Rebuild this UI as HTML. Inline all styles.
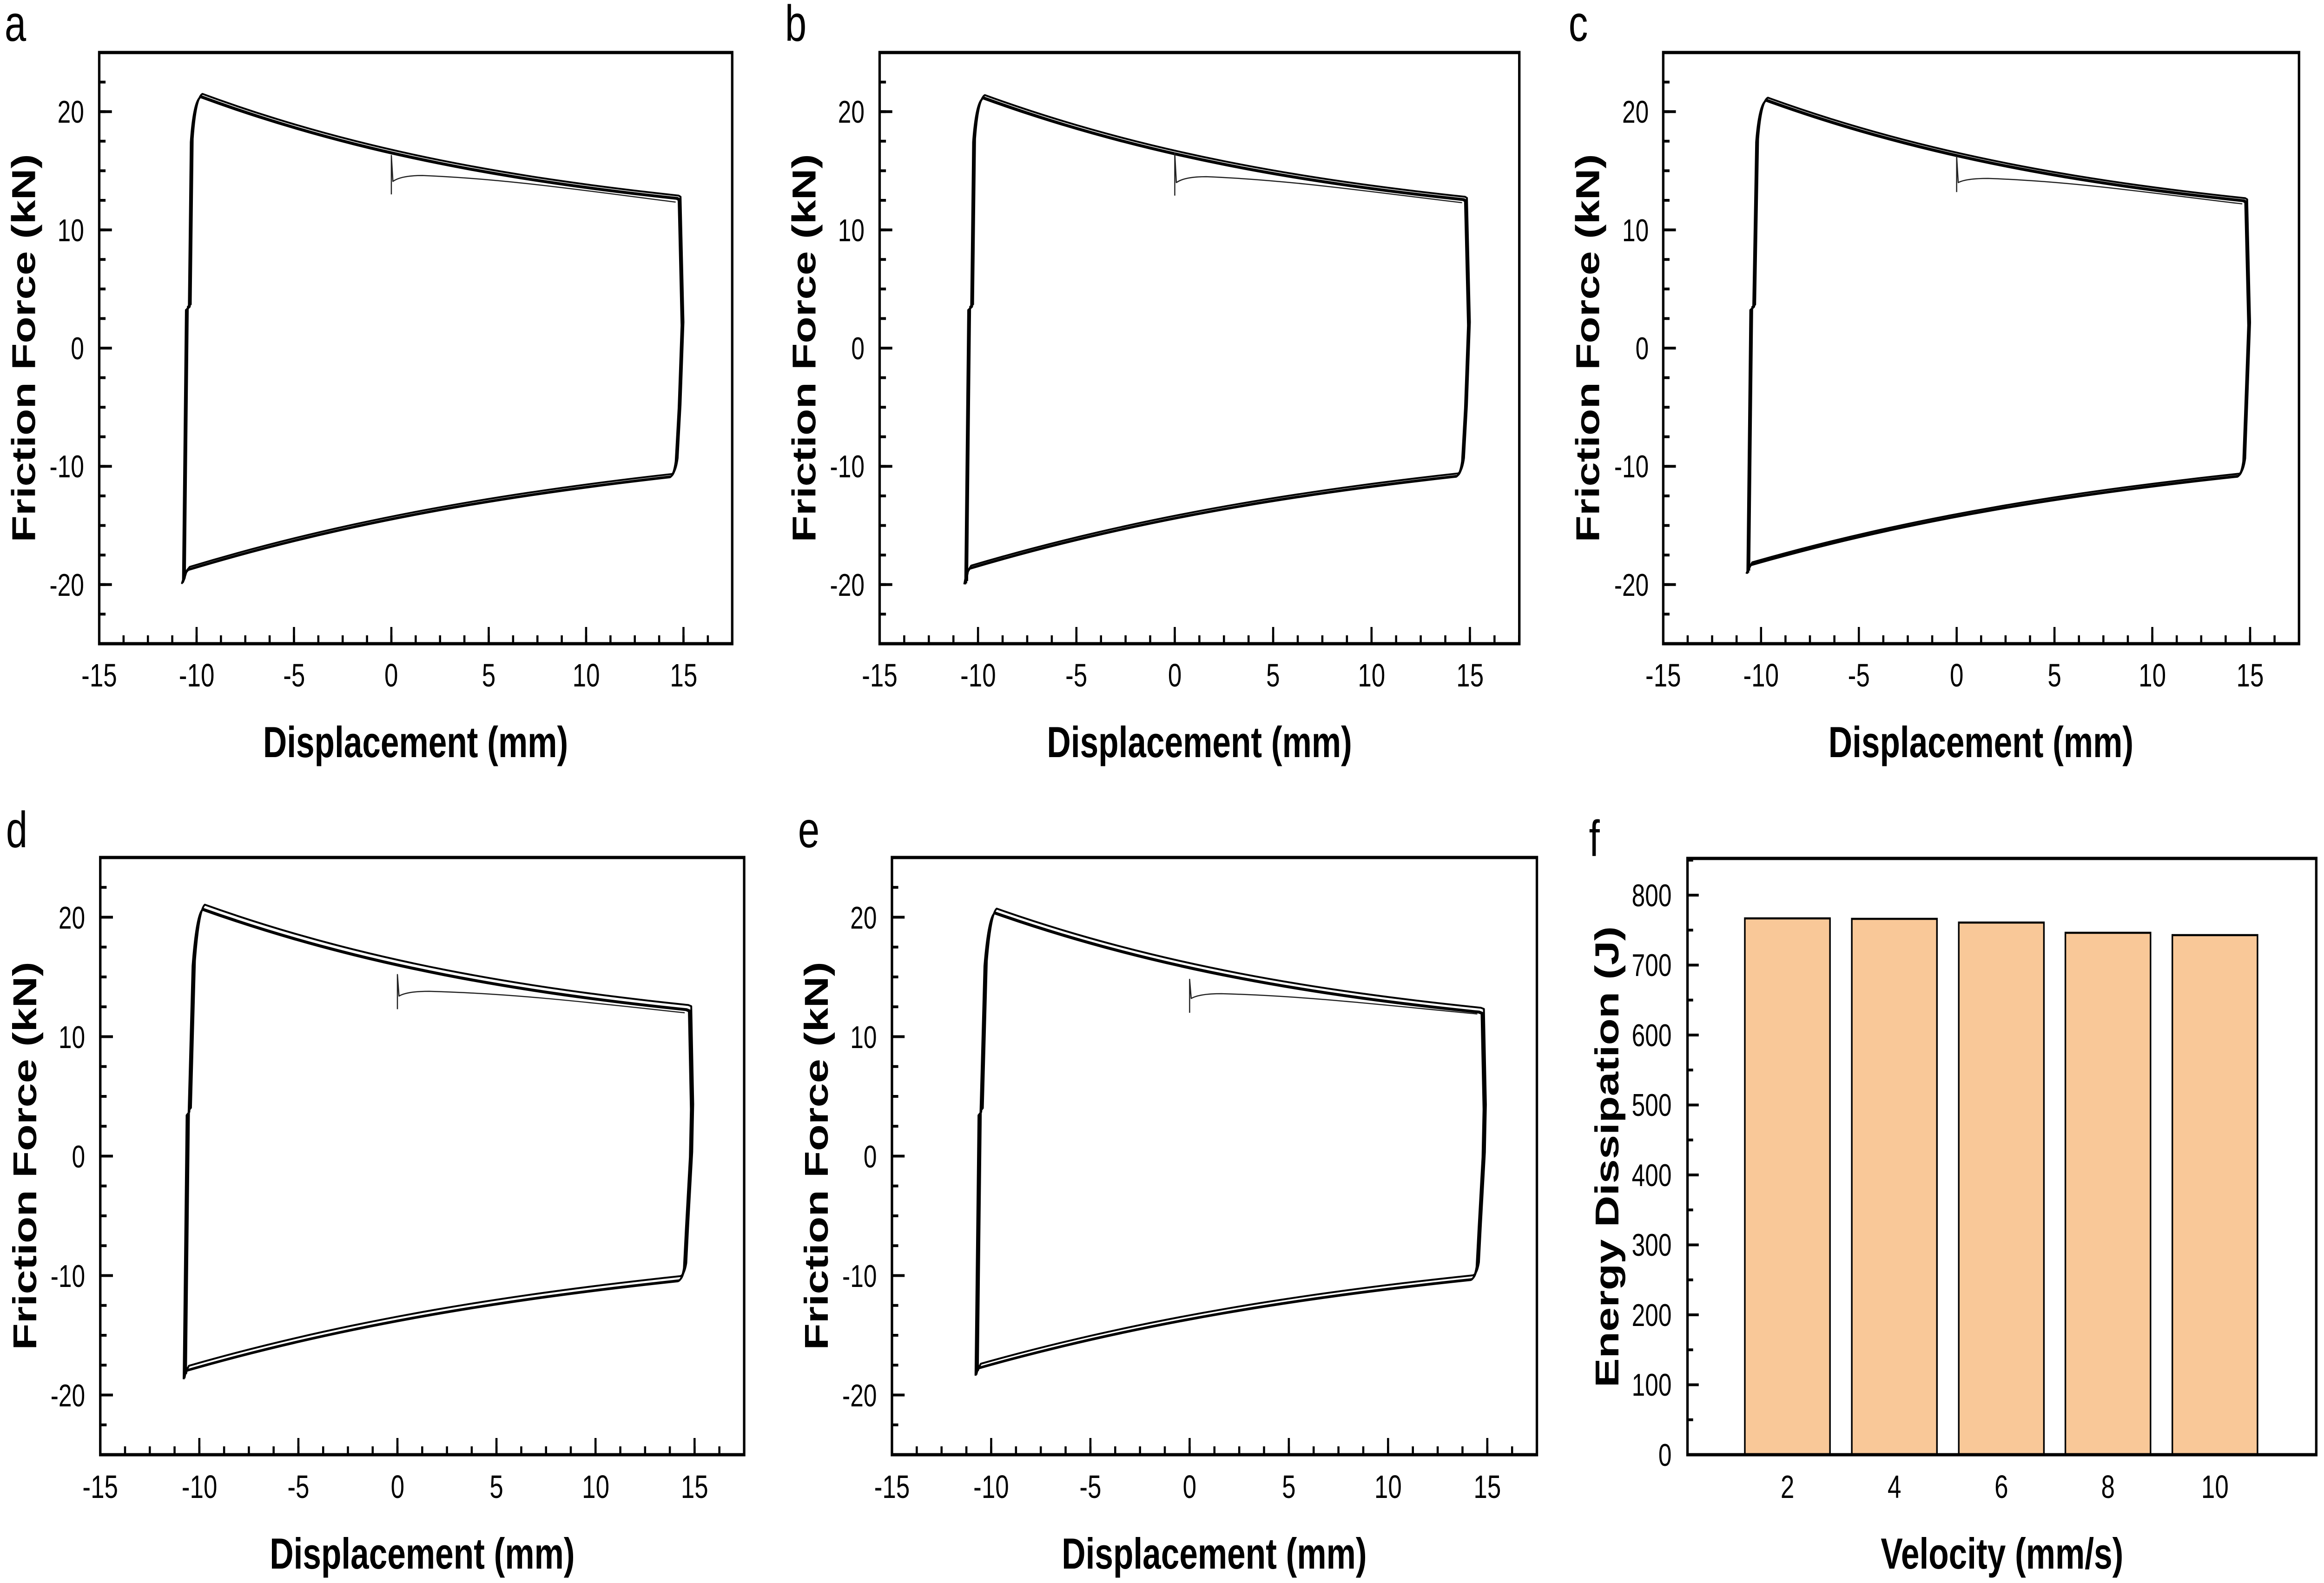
<!DOCTYPE html>
<html>
<head>
<meta charset="utf-8">
<style>
html,body{margin:0;padding:0;background:#fff;width:100%;height:100%;overflow:hidden;}
svg{display:block;width:100vw;height:100vh;}
text{font-family:"Liberation Sans",Arial,sans-serif;fill:#000;}
</style>
</head>
<body>
<svg viewBox="0 0 6605 3406" preserveAspectRatio="none" xmlns="http://www.w3.org/2000/svg">
<rect x="0" y="0" width="6605" height="3406" fill="#fff"/>

<!-- ================= PANEL LETTERS ================= -->
<g font-size="110">
<text x="13" y="88">a</text>
<text x="2231" y="88">b</text>
<text x="4458" y="88">c</text>
<text x="17" y="1823">d</text>
<text x="2268" y="1823">e</text>
<text x="4516" y="1842">f</text>
</g>

<!-- ================= FRAMES ================= -->
<g fill="none" stroke="#000" stroke-width="7">
<rect x="282" y="113" width="1799" height="1272"/>
<rect x="2500" y="113" width="1818" height="1272"/>
<rect x="4727" y="113" width="1807" height="1272"/>
<rect x="285" y="1845" width="1830" height="1285"/>
<rect x="2535" y="1845" width="1833" height="1285"/>
</g>

<!-- ================= TICKS (dash patterns) ================= -->
<g fill="none" stroke="#000">
<line x1="291" y1="110" x2="291" y2="1385" stroke-width="18" stroke-dasharray="6 57.6"/>
<line x1="300" y1="237.2" x2="300" y2="1385" stroke-width="36" stroke-dasharray="6 248.4"/>
<line x1="2509" y1="110" x2="2509" y2="1385" stroke-width="18" stroke-dasharray="6 57.6"/>
<line x1="2518" y1="237.2" x2="2518" y2="1385" stroke-width="36" stroke-dasharray="6 248.4"/>
<line x1="4736" y1="110" x2="4736" y2="1385" stroke-width="18" stroke-dasharray="6 57.6"/>
<line x1="4745" y1="237.2" x2="4745" y2="1385" stroke-width="36" stroke-dasharray="6 248.4"/>
<line x1="279" y1="1376" x2="2081" y2="1376" stroke-width="18" stroke-dasharray="6 63.19"/>
<line x1="279" y1="1367" x2="2081" y2="1367" stroke-width="36" stroke-dasharray="6 270.75"/>
<line x1="2497" y1="1376" x2="4318" y2="1376" stroke-width="18" stroke-dasharray="6 63.9"/>
<line x1="2497" y1="1367" x2="4318" y2="1367" stroke-width="36" stroke-dasharray="6 273.6"/>
<line x1="4724" y1="1376" x2="6534" y2="1376" stroke-width="18" stroke-dasharray="6 63.5"/>
<line x1="4724" y1="1367" x2="6534" y2="1367" stroke-width="36" stroke-dasharray="6 272"/>
<line x1="294" y1="1842" x2="294" y2="3130" stroke-width="18" stroke-dasharray="6 58.25"/>
<line x1="303" y1="1970.5" x2="303" y2="3130" stroke-width="36" stroke-dasharray="6 251"/>
<line x1="2544" y1="1842" x2="2544" y2="3130" stroke-width="18" stroke-dasharray="6 58.25"/>
<line x1="2553" y1="1970.5" x2="2553" y2="3130" stroke-width="36" stroke-dasharray="6 251"/>
<line x1="282" y1="3121" x2="2115" y2="3121" stroke-width="18" stroke-dasharray="6 64.38"/>
<line x1="282" y1="3112" x2="2115" y2="3112" stroke-width="36" stroke-dasharray="6 275.5"/>
<line x1="2532" y1="3121" x2="4368" y2="3121" stroke-width="18" stroke-dasharray="6 64.5"/>
<line x1="2532" y1="3112" x2="4368" y2="3112" stroke-width="36" stroke-dasharray="6 276"/>
</g>

<!-- ================= Y TICK LABELS ================= -->
<g font-size="68" text-anchor="end">
<text x="239" y="264">20</text><text x="239" y="519">10</text><text x="239" y="773">0</text><text x="239" y="1027">-10</text><text x="239" y="1282">-20</text>
<text x="2457" y="264">20</text><text x="2457" y="519">10</text><text x="2457" y="773">0</text><text x="2457" y="1027">-10</text><text x="2457" y="1282">-20</text>
<text x="4686" y="264">20</text><text x="4686" y="519">10</text><text x="4686" y="773">0</text><text x="4686" y="1027">-10</text><text x="4686" y="1282">-20</text>
<text x="242" y="1998">20</text><text x="242" y="2255">10</text><text x="242" y="2512">0</text><text x="242" y="2769">-10</text><text x="242" y="3026">-20</text>
<text x="2492" y="1998">20</text><text x="2492" y="2255">10</text><text x="2492" y="2512">0</text><text x="2492" y="2769">-10</text><text x="2492" y="3026">-20</text>
</g>

<!-- ================= X TICK LABELS ================= -->
<g font-size="70" text-anchor="middle">
<text x="282" y="1477">-15</text><text x="559" y="1477">-10</text><text x="836" y="1477">-5</text><text x="1112" y="1477">0</text><text x="1389" y="1477">5</text><text x="1666" y="1477">10</text><text x="1943" y="1477">15</text>
<text x="2500" y="1477">-15</text><text x="2780" y="1477">-10</text><text x="3059" y="1477">-5</text><text x="3339" y="1477">0</text><text x="3618" y="1477">5</text><text x="3898" y="1477">10</text><text x="4178" y="1477">15</text>
<text x="4727" y="1477">-15</text><text x="5005" y="1477">-10</text><text x="5283" y="1477">-5</text><text x="5561" y="1477">0</text><text x="5839" y="1477">5</text><text x="6117" y="1477">10</text><text x="6395" y="1477">15</text>
<text x="285" y="3223">-15</text><text x="567" y="3223">-10</text><text x="848" y="3223">-5</text><text x="1130" y="3223">0</text><text x="1411" y="3223">5</text><text x="1693" y="3223">10</text><text x="1974" y="3223">15</text>
<text x="2535" y="3223">-15</text><text x="2817" y="3223">-10</text><text x="3099" y="3223">-5</text><text x="3381" y="3223">0</text><text x="3663" y="3223">5</text><text x="3945" y="3223">10</text><text x="4227" y="3223">15</text>
</g>

<!-- ================= AXIS TITLES ================= -->
<g font-size="94" font-weight="bold" text-anchor="middle">
<text x="1181" y="1629">Displacement (mm)</text>
<text x="3409" y="1629">Displacement (mm)</text>
<text x="5630" y="1629">Displacement (mm)</text>
<text x="1200" y="3375">Displacement (mm)</text>
<text x="3451" y="3375">Displacement (mm)</text>
<text x="5690" y="3375">Velocity (mm/s)</text>
<text transform="translate(100,749) rotate(-90)">Friction Force (kN)</text>
<text transform="translate(2318,749) rotate(-90)">Friction Force (kN)</text>
<text transform="translate(4545,749) rotate(-90)">Friction Force (kN)</text>
<text transform="translate(103,2487) rotate(-90)">Friction Force (kN)</text>
<text transform="translate(2353,2487) rotate(-90)">Friction Force (kN)</text>
<text transform="translate(4600,2489) rotate(-90)">Energy Dissipation (J)</text>
</g>

<!-- ================= CURVES ================= -->
<g transform="translate(1112.25,749) scale(55.35,-25.44)" fill="none" stroke="#000" stroke-linejoin="round">
<path id="la" vector-effect="non-scaling-stroke" stroke-width="4" d="M-10.65 -19.6 L-10.5 3.3 L-10.35 3.5 L-10.25 17.5 Q-10.1 21 -9.75 21.3 C-1.6 16.35 6.55 14.15 14.7 12.7 L14.8 12.6 L14.95 2 L14.8 -5 L14.65 -9.5 Q14.55 -10.7 14.35 -10.85 C6.1 -12.38 -2.15 -14.59 -10.4 -18.7 L-10.55 -19 L-10.7 -19.8 L-10.65 -19.6"/>
<use href="#la" transform="translate(0.05,0.2)"/>
<use href="#la" transform="translate(-0.05,-0.08)"/>
<path vector-effect="non-scaling-stroke" stroke-width="2.5" stroke="#222" d="M0 13 L0 16.3 L0.08 14.1 Q0.5 14.6 1.6 14.6 C6 14.3 10 13.3 14.6 12.35"/>
</g>
<g transform="translate(3338.8,749) scale(55.92,-25.44)" fill="none" stroke="#000" stroke-linejoin="round">
<path id="lb" vector-effect="non-scaling-stroke" stroke-width="4" d="M-10.6 -19.9 L-10.45 3.3 L-10.3 3.5 L-10.2 17.5 Q-10.05 20.9 -9.7 21.2 C-1.57 16.27 6.57 14.05 14.7 12.6 L14.8 12.5 L14.95 2 L14.8 -5 L14.65 -9.5 Q14.55 -10.65 14.35 -10.8 C6.1 -12.32 -2.15 -14.52 -10.4 -18.6 L-10.55 -19 L-10.65 -19.9"/>
<use href="#lb" transform="translate(0.05,0.2)"/>
<use href="#lb" transform="translate(-0.05,-0.08)"/>
<path vector-effect="non-scaling-stroke" stroke-width="2.5" stroke="#222" d="M0 12.9 L0 16.5 L0.08 14 Q0.5 14.5 1.6 14.5 C6 14.2 10 13.2 14.6 12.3"/>
</g>
<g transform="translate(5561,749) scale(55.6,-25.44)" fill="none" stroke="#000" stroke-linejoin="round">
<path id="lc" vector-effect="non-scaling-stroke" stroke-width="4" d="M-10.65 -19.0 L-10.5 3.3 L-10.35 3.5 L-10.2 17.5 Q-10.05 20.7 -9.7 21.0 C-1.57 16.12 6.57 13.93 14.7 12.5 L14.8 12.4 L14.95 2 L14.8 -5 L14.7 -9.5 Q14.6 -10.65 14.4 -10.8 C6.1 -12.27 -2.2 -14.35 -10.5 -18.3 L-10.6 -18.6 L-10.7 -19.0"/>
<use href="#lc" transform="translate(0.05,0.18)"/>
<use href="#lc" transform="translate(-0.05,-0.08)"/>
<path vector-effect="non-scaling-stroke" stroke-width="2.5" stroke="#222" d="M0 13.2 L0 16.2 L0.08 14 Q0.5 14.35 1.6 14.35 C6 14.1 10 13.1 14.6 12.2"/>
</g>
<g transform="translate(1129.5,2487.5) scale(56.31,-25.7)" fill="none" stroke="#000" stroke-linejoin="round">
<path id="ld" vector-effect="non-scaling-stroke" stroke-width="4" d="M-10.75 -18.6 L-10.6 3.5 L-10.5 3.7 L-10.3 16 Q-10.1 20.3 -9.8 20.7 C-1.67 15.88 6.47 13.71 14.6 12.3 L14.75 12.2 L14.85 4 L14.8 0 L14.6 -6 L14.5 -9.3 Q14.4 -10.3 14.2 -10.4 C5.93 -11.86 -2.33 -13.96 -10.6 -17.9 L-10.7 -18.2 L-10.75 -18.6"/>
<use href="#ld" transform="translate(0.08,0.35)"/>
<use href="#ld" transform="translate(-0.04,-0.08)"/>
<path vector-effect="non-scaling-stroke" stroke-width="2.5" stroke="#222" d="M0 12.3 L0 15.2 L0.08 13.4 Q0.5 13.8 1.6 13.8 C6 13.6 10 12.8 14.5 12.0"/>
</g>
<g transform="translate(3381,2487.5) scale(56.4,-25.7)" fill="none" stroke="#000" stroke-linejoin="round">
<path id="le" vector-effect="non-scaling-stroke" stroke-width="4" d="M-10.75 -18.3 L-10.6 3.5 L-10.5 3.7 L-10.3 16 Q-10.1 20.0 -9.8 20.4 C-1.67 15.64 6.47 13.5 14.6 12.1 L14.75 12.0 L14.85 4 L14.8 0 L14.6 -6 L14.5 -9.2 Q14.4 -10.2 14.2 -10.3 C5.93 -11.74 -2.33 -13.82 -10.6 -17.7 L-10.7 -18.0 L-10.75 -18.3"/>
<use href="#le" transform="translate(0.08,0.32)"/>
<use href="#le" transform="translate(-0.04,-0.08)"/>
<path vector-effect="non-scaling-stroke" stroke-width="2.5" stroke="#222" d="M0 12.0 L0 14.8 L0.08 13.2 Q0.5 13.6 1.6 13.6 C6 13.4 10 12.6 14.5 11.9"/>
</g>

<!-- ================= PANEL F (bar chart) ================= -->
<g fill="#F9C898" stroke="#000" stroke-width="4.5">
<rect x="4959" y="1976" width="242" height="1154"/>
<rect x="5263" y="1977" width="242" height="1153"/>
<rect x="5567" y="1985" width="242" height="1145"/>
<rect x="5870" y="2007" width="242" height="1123"/>
<rect x="6174" y="2012" width="242" height="1118"/>
</g>
<rect x="4796" y="1847" width="1787" height="1283" fill="none" stroke="#000" stroke-width="7"/>
<g fill="none" stroke="#000">
<line x1="4804" y1="3133" x2="4804" y2="1847" stroke-width="16" stroke-dasharray="6 69.25"/>
<line x1="4812" y1="3133" x2="4812" y2="1847" stroke-width="32" stroke-dasharray="6 144.5"/>
</g>
<g font-size="68" text-anchor="end">
<text x="4751" y="1950">800</text>
<text x="4751" y="2100">700</text>
<text x="4751" y="2251">600</text>
<text x="4751" y="2401">500</text>
<text x="4751" y="2552">400</text>
<text x="4751" y="2702">300</text>
<text x="4751" y="2853">200</text>
<text x="4751" y="3003">100</text>
<text x="4751" y="3154">0</text>
</g>
<g font-size="70" text-anchor="middle">
<text x="5080" y="3223">2</text>
<text x="5384" y="3223">4</text>
<text x="5688" y="3223">6</text>
<text x="5991" y="3223">8</text>
<text x="6295" y="3223">10</text>
</g>
</svg>
</body>
</html>
